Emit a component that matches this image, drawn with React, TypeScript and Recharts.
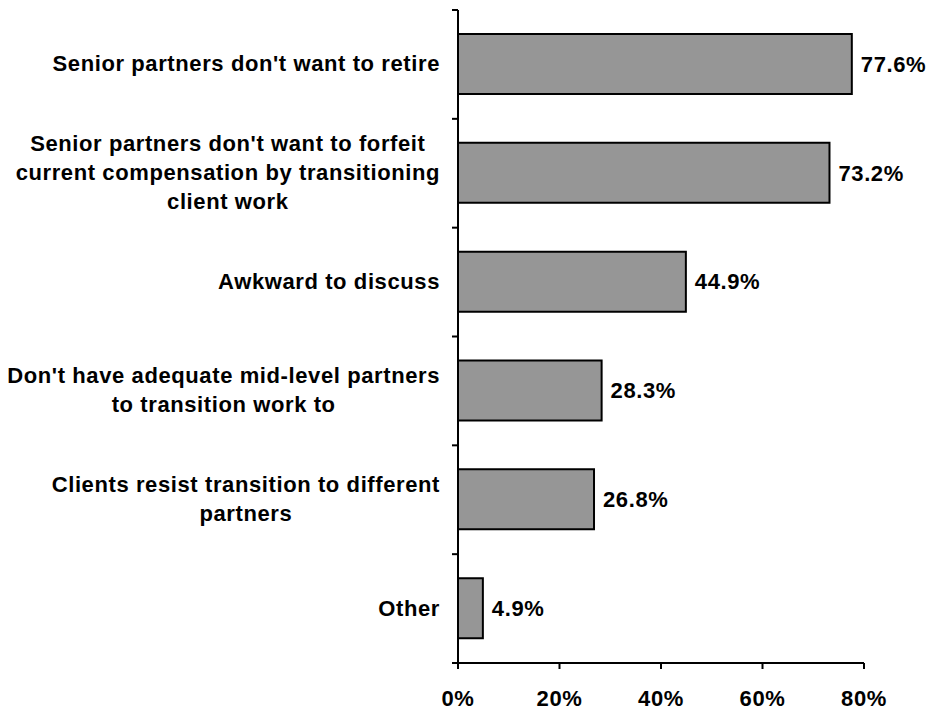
import { BarChart, Bar, XAxis, YAxis, LabelList } from "recharts";

const categories = [
  "Senior partners don't want to retire",
  "Senior partners don't want to forfeit\ncurrent compensation by transitioning\nclient work",
  "Awkward to discuss",
  "Don't have adequate mid-level partners\nto transition work to",
  "Clients resist transition to different\npartners",
  "Other",
];
const shares = [77.6, 73.2, 44.9, 28.3, 26.8, 4.9];
const xTicks = [0, 20, 40, 60, 80];

const data = categories.map((name, i) => ({ name, value: shares[i] }));

const FONT = "'Liberation Sans', Arial, sans-serif";
const textStyle = { fontFamily: FONT, fontSize: 22, fontWeight: 700, letterSpacing: 0.6 };

let ctx: CanvasRenderingContext2D | null = null;
function measure(s: string) {
  if (!ctx) ctx = document.createElement("canvas").getContext("2d");
  if (!ctx) return s.length * 11;
  ctx.font = "bold 22px 'Liberation Sans'";
  (ctx as any).letterSpacing = "0.6px";
  return ctx.measureText(s).width;
}

// category label: lines centred on each other, block right aligned; tick marks sit between bands
function CategoryTick(props: any) {
  const { x, y, payload, index } = props;
  const lines = String(payload.value).split("\n");
  const widest = Math.max(...lines.map(measure));
  const cx = x - widest / 2;
  const half = payload.offset ?? 0;
  const axisX = x + 18;
  return (
    <g>
      <line x1={axisX - 6} x2={axisX} y1={y - half} y2={y - half} stroke="#000" strokeWidth={2} />
      {index === categories.length - 1 && (
        <line x1={axisX - 6} x2={axisX} y1={y + half} y2={y + half} stroke="#000" strokeWidth={2} />
      )}
      <text x={cx} y={y} textAnchor="middle" fill="#000" style={textStyle}>
        {lines.map((l, i) => (
          <tspan key={i} x={cx} y={y + (i - (lines.length - 1) / 2) * 29 + 7}>
            {l}
          </tspan>
        ))}
      </text>
    </g>
  );
}

export default function App() {
  return (
    <div style={{ position: "absolute", left: 0, top: 0, background: "#fff" }}>
      <BarChart
        width={931}
        height={711}
        data={data}
        layout="vertical"
        margin={{ top: 10, right: 67, left: 0, bottom: 0 }}
      >
        <XAxis
          type="number"
          domain={[0, 80]}
          ticks={xTicks}
          tickFormatter={(v) => `${v}%`}
          height={48}
          tickSize={6}
          tickMargin={21}
          axisLine={{ stroke: "#000", strokeWidth: 2 }}
          tickLine={{ stroke: "#000", strokeWidth: 2 }}
          tick={{ fill: "#000", ...textStyle }}
        />
        <YAxis
          type="category"
          dataKey="name"
          width={458}
          interval={0}
          tickSize={6}
          tickMargin={12}
          tickLine={false}
          axisLine={{ stroke: "#000", strokeWidth: 2 }}
          tick={<CategoryTick />}
        />
        <Bar dataKey="value" fill="#969696" stroke="#000" strokeWidth={2} barSize={60} isAnimationActive={false}>
          <LabelList
            dataKey="value"
            position="right"
            offset={9}
            formatter={(v: any) => `${v}%`}
            style={{ fill: "#000", ...textStyle }}
          />
        </Bar>
      </BarChart>
    </div>
  );
}
